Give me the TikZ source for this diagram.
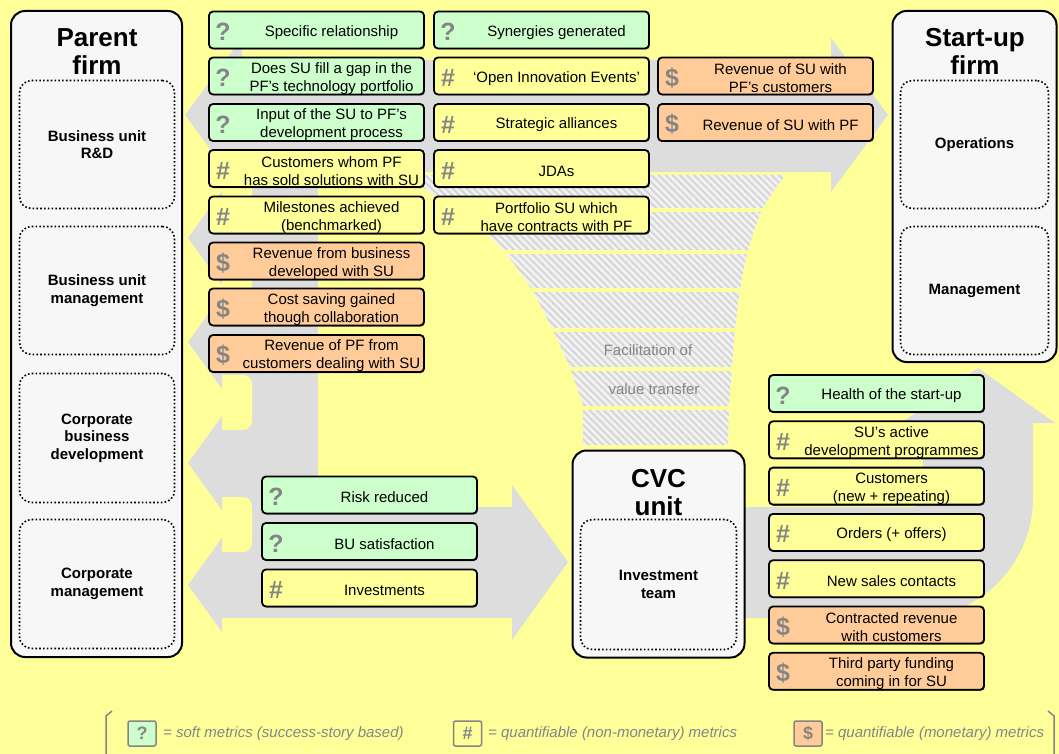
\documentclass[tikz,border=0pt]{standalone}
\usepackage{fontspec}
\setmainfont{Liberation Sans}
\usetikzlibrary{patterns.meta,shadows}
\definecolor{bgyellow}{HTML}{FFFF99}
\definecolor{mgreen}{HTML}{CCFFCC}
\definecolor{myellow}{HTML}{FFFF99}
\definecolor{morange}{HTML}{FFCC99}
\definecolor{arrowgray}{HTML}{DDDDDD}
\definecolor{panelfill}{HTML}{F7F7F7}
\definecolor{icongray}{HTML}{858585}
\definecolor{hatchbg}{HTML}{F2F2F2}
\definecolor{hatchln}{HTML}{D6D6D6}
\newcommand{\fsz}[2]{\fontsize{#1}{#2}\selectfont}
\newcommand{\metric}[6]{%
  \node[mbox, fill=#4] (#1) at (#2,#3) {};
  \node[micon] (#1-i) at ([xshift=15pt,yshift=-2pt]#1.west) {#5};
  \node[mtext] (#1-t) at ([xshift=15pt,yshift=-2.5pt]#1.center) {#6};
}
\tikzset{
  mbox/.style={draw=black, line width=1.8pt, rounded corners=4pt, minimum width=215pt, minimum height=37pt, inner sep=0pt,
    drop shadow={shadow xshift=0.9pt, shadow yshift=-1pt, fill=black, opacity=0.55}},
  micon/.style={text=icongray, font=\fsz{25}{25}\bfseries, inner sep=0pt},
  mtext/.style={align=center, font=\fsz{15}{18}, inner sep=0pt, text=black},
  panel/.style={draw=black, line width=2pt, rounded corners=14pt, fill=panelfill, inner sep=0pt},
  subpanel/.style={draw=black, line width=1.6pt, dash pattern=on 1.6pt off 2.2pt, rounded corners=12pt, align=center, font=\fsz{15}{17.5}\bfseries, inner sep=0pt},
  ptitle/.style={align=center, font=\fsz{26}{28}\bfseries, inner sep=0pt},
  grayshape/.style={fill=arrowgray},
  notch/.style={fill=bgyellow, rounded corners=9pt},
  funneltext/.style={text=icongray, font=\fsz{15}{18}, inner sep=0pt},
  legbox/.style={draw=icongray, line width=1.5pt, rounded corners=2pt, minimum width=28pt, minimum height=25pt, inner sep=0pt, text=icongray, font=\fsz{18}{18}\bfseries},
  legtext/.style={text=icongray, font=\fsz{15}{18}\itshape, inner sep=0pt, anchor=west},
  legline/.style={draw=icongray, line width=1.5pt},
}
\begin{document}
\begin{tikzpicture}[x=1pt,y=-1pt]
\useasboundingbox (0,0) rectangle (1059,754);
\fill[bgyellow] (0,0) rectangle (1059,754);

% ---- gray arrows ----
\fill[grayshape] (185,115) -- (242,38) -- (242,60) -- (831,60) -- (831,38) -- (888,115) -- (831,192) -- (831,172) -- (242,172) -- (242,192) -- cycle;
\fill[grayshape] (222,172) rectangle (318,618);
\fill[grayshape] (318,507) rectangle (512,618);
\fill[grayshape] (512,485) -- (568,562) -- (512,640) -- cycle;
\fill[notch] (190,172) rectangle (252,205);
\fill[notch] (190,271) rectangle (252,309);
\fill[notch] (190,375) rectangle (252,430);
\fill[notch] (190,497) rectangle (252,552);
\foreach \c in {238,342,463,585}{
  \fill[grayshape] (222,\c-47) -- (188,\c) -- (222,\c+47) -- cycle;
}
\fill[grayshape] (745,507) -- (745,618) -- (913,618) arc[start angle=90, end angle=0, radius=120]
  -- (1033,423) -- (1055,423) -- (978,368) -- (901,423) -- (923,423) -- (923,497)
  arc[start angle=0, end angle=90, radius=10] -- cycle;

% ---- funnel ----
\fill[hatchbg, postaction={pattern={Lines[angle=-45, distance=5pt, line width=2pt]}, pattern color=hatchln}]
  plot[smooth] coordinates {(405,175) (470,220) (503,250) (532,290) (553,330) (570,368) (583,405)}
  -- (583,445) -- (728,445) --
  plot[smooth] coordinates {(729,405) (732,368) (735,330) (740,290) (748,250) (762,210) (785,175)} -- cycle;
\begin{scope}
\clip plot[smooth] coordinates {(405,175) (470,220) (503,250) (532,290) (553,330) (570,368) (583,405)}
  -- (583,445) -- (728,445) --
  plot[smooth] coordinates {(729,405) (732,368) (735,330) (740,290) (748,250) (762,210) (785,175)} -- cycle;
\foreach \g in {210,252,290,330,369,408}{
  \draw[bgyellow, line width=4pt] (380,\g) -- (800,\g);
}
\end{scope}
\node[funneltext] (f1) at (648,350) {Facilitation of};
\node[funneltext] (f2) at (654,389) {value transfer};

% ---- panels ----
\node[panel, minimum width=171pt, minimum height=646pt] (pf) at (96.5,334) {};
\node[ptitle] (pft) at (97,51.5) {Parent\\firm};
\node[subpanel, minimum width=155pt, minimum height=128pt] (rd) at (97,144.5) {Business unit\\R\&D};
\node[subpanel, minimum width=155pt, minimum height=128pt] (bum) at (97,290.5) {Business unit\\management};
\node[subpanel, minimum width=155pt, minimum height=129pt] (cbd) at (97,438) {Corporate\\business\\development};
\node[subpanel, minimum width=155pt, minimum height=129pt] (cm) at (97,584) {Corporate\\management};

\node[panel, minimum width=164pt, minimum height=351pt] (su) at (974.5,186.5) {};
\node[ptitle] (sut) at (975,51.5) {Start-up\\firm};
\node[subpanel, minimum width=148pt, minimum height=128pt] (op) at (974.5,144.5) {Operations};
\node[subpanel, minimum width=148pt, minimum height=128pt] (mg) at (974.5,290.5) {Management};

\node[panel, minimum width=172pt, minimum height=207pt] (cvc) at (658.5,554) {};
\node[ptitle] (cvct) at (658.5,492.5) {CVC\\unit};
\node[subpanel, minimum width=156pt, minimum height=130pt] (it) at (658.5,584.5) {Investment\\team};

% ---- metric boxes: left column ----
\metric{a1}{316.5}{30}{mgreen}{?}{Specific relationship}
\metric{a2}{316.5}{76}{mgreen}{?}{Does SU fill a gap in the\\PF’s technology portfolio}
\metric{a3}{316.5}{122.5}{mgreen}{?}{Input of the SU to PF’s\\development process}
\metric{a4}{316.5}{168.5}{myellow}{\#}{Customers whom PF\\has sold solutions with SU}
\metric{a5}{316.5}{215}{myellow}{\#}{Milestones achieved\\(benchmarked)}
\metric{a6}{316.5}{261}{morange}{\$}{Revenue from business\\developed with SU}
\metric{a7}{316.5}{307}{morange}{\$}{Cost saving gained\\though collaboration}
\metric{a8}{316.5}{353.5}{morange}{\$}{Revenue of PF from\\customers dealing with SU}

% ---- middle column ----
\metric{b1}{541.5}{30}{mgreen}{?}{Synergies generated}
\metric{b2}{541.5}{76}{myellow}{\#}{‘Open Innovation Events’}
\metric{b3}{541.5}{122.5}{myellow}{\#}{Strategic alliances}
\metric{b4}{541.5}{168.5}{myellow}{\#}{JDAs}
\metric{b5}{541.5}{215}{myellow}{\#}{Portfolio SU which\\have contracts with PF}

% ---- right top ----
\metric{c1}{765.5}{76}{morange}{\$}{Revenue of SU with\\PF’s customers}
\metric{c2}{765.5}{122.5}{morange}{\$}{Revenue of SU with PF}

% ---- bottom middle ----
\metric{d1}{369.5}{495}{mgreen}{?}{Risk reduced}
\metric{d2}{369.5}{541.5}{mgreen}{?}{BU satisfaction}
\metric{d3}{369.5}{588}{myellow}{\#}{Investments}

% ---- right bottom ----
\metric{e1}{876.5}{393.5}{mgreen}{?}{Health of the start-up}
\metric{e2}{876.5}{439.8}{myellow}{\#}{SU’s active\\development programmes}
\metric{e3}{876.5}{486.1}{myellow}{\#}{Customers\\(new + repeating)}
\metric{e4}{876.5}{532.4}{myellow}{\#}{Orders (+ offers)}
\metric{e5}{876.5}{578.7}{myellow}{\#}{New sales contacts}
\metric{e6}{876.5}{625}{morange}{\$}{Contracted revenue\\with customers}
\metric{e7}{876.5}{671.3}{morange}{\$}{Third party funding\\coming in for SU}

% ---- legend ----
\draw[legline] (112,711) -- (106,716) -- (106,760);
\draw[legline] (1048,711) -- (1054,716) -- (1054,760);
\node[legbox, fill=mgreen] (lg1) at (142,733.5) {?};
\node[legtext] (lt1) at (163,734) {= soft metrics (success-story based)};
\node[legbox, fill=myellow] (lg2) at (467.5,733.5) {\#};
\node[legtext] (lt2) at (488,734) {= quantifiable (non-monetary) metrics};
\node[legbox, fill=morange] (lg3) at (808,733.5) {\$};
\node[legtext] (lt3) at (825,734) {= quantifiable (monetary) metrics};
\end{tikzpicture}
\end{document}
